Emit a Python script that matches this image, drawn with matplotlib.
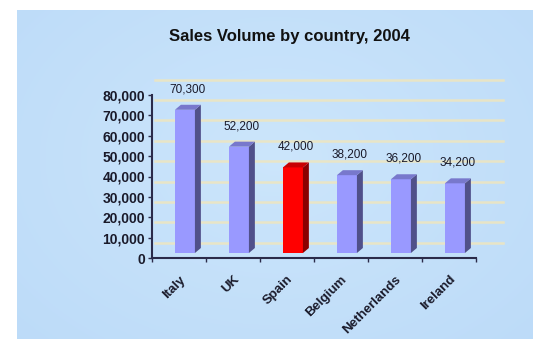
import matplotlib
matplotlib.use("Agg")
import matplotlib.pyplot as plt
from matplotlib.patches import Polygon
import numpy as np

plt.rcParams['font.family'] = ['Liberation Sans', 'DejaVu Sans']

countries = ["Italy", "UK", "Spain", "Belgium", "Netherlands", "Ireland"]
sales = [70300, 52200, 42000, 38200, 36200, 34200]
label_text = ["70,300", "52,200", "42,000", "38,200", "36,200", "34,200"]
highlight = "Spain"
yticks = [0, 10000, 20000, 30000, 40000, 50000, 60000, 70000, 80000]
title = "Sales Volume by country, 2004"

W, H = 533, 339
fig = plt.figure(figsize=(W / 100, H / 100), dpi=100)
fig.patch.set_facecolor("white")

# background panel
bg = fig.add_axes([17 / W, 0, 1 - 17 / W, 1 - 10 / H])
bg.set_axis_off()
gy, gx = np.mgrid[0:1:200j, 0:1:300j]
r = np.sqrt(((gx - 0.5) / 0.7) ** 2 + ((gy - 0.55) / 0.8) ** 2)
c0 = np.array([0.80, 0.90, 0.985])
c1 = np.array([0.74, 0.86, 0.975])
t = np.clip(r, 0, 1)[..., None]
img = c0 * (1 - t) + c1 * t
bg.imshow(img, extent=[0, 1, 0, 1], aspect="auto", origin="lower")
bg.set_xlim(0, 1)
bg.set_ylim(0, 1)

ax = fig.add_axes([152 / W, 81 / H, 324 / W, 163 / H])
ax.patch.set_alpha(0)
n = len(countries)
ax.set_xlim(-0.5, n - 0.5)
ax.set_ylim(0, 80000)

base = 2450
dx, dy = 0.11, 2450
shift, bw = 0.11, 0.37
grid_off = 7500

for v in yticks:
    ax.plot([-0.45, 6.0], [v + grid_off, v + grid_off], color="#EFE6BE",
            lw=1.8, alpha=0.85, clip_on=False, zorder=1)

for i, (c, v) in enumerate(zip(countries, sales)):
    if c == highlight:
        front, side, top = "#FF0000", "#8A0000", "#C80000"
    else:
        front, side, top = "#9999FF", "#50508A", "#7878CC"
    xc = i + shift
    ax.bar(xc, v, width=bw, bottom=base, color=front, zorder=3)
    x0, x1 = xc - bw / 2, xc + bw / 2
    ax.add_patch(Polygon([(x1, base), (x1 + dx, base + dy), (x1 + dx, base + v + dy),
                          (x1, base + v)], closed=True, facecolor=side,
                         edgecolor="none", zorder=3))
    ax.add_patch(Polygon([(x0, base + v), (x0 + dx, base + v + dy),
                          (x1 + dx, base + v + dy), (x1, base + v)], closed=True,
                         facecolor=top, edgecolor="none", zorder=3))
    ax.text(xc + dx / 2, v + 12500, label_text[i], ha="center", va="center",
            fontsize=8.5, color="#1a1a2a", clip_on=False, zorder=4)

for s in ["top", "right"]:
    ax.spines[s].set_visible(False)
for s in ["left", "bottom"]:
    ax.spines[s].set_color("#2b2b4a")
    ax.spines[s].set_linewidth(1.5)

ax.set_yticks(yticks)
ax.set_yticklabels([f"{v:,}" for v in yticks], fontsize=10, fontweight="bold",
                   color="#1a1a2a")
ax.tick_params(axis="y", length=3, width=1, pad=2, color="#2b2b4a")

ax.set_xticks(np.arange(n))
ax.set_xticklabels(countries, rotation=45, ha="right", rotation_mode="anchor",
                   fontsize=9.5, fontweight="bold", color="#1a1a2a")
ax.tick_params(axis="x", which="major", length=0, pad=11)
ax.set_xticks(np.arange(n + 1) - 0.5, minor=True)
ax.tick_params(axis="x", which="minor", length=3, width=1, color="#2b2b4a")

fig.text(289 / W, 1 - 37 / H, title, ha="center", va="center", fontsize=12,
         fontweight="bold", color="#111111")

fig.savefig("out.png", dpi=100, facecolor=fig.get_facecolor())
